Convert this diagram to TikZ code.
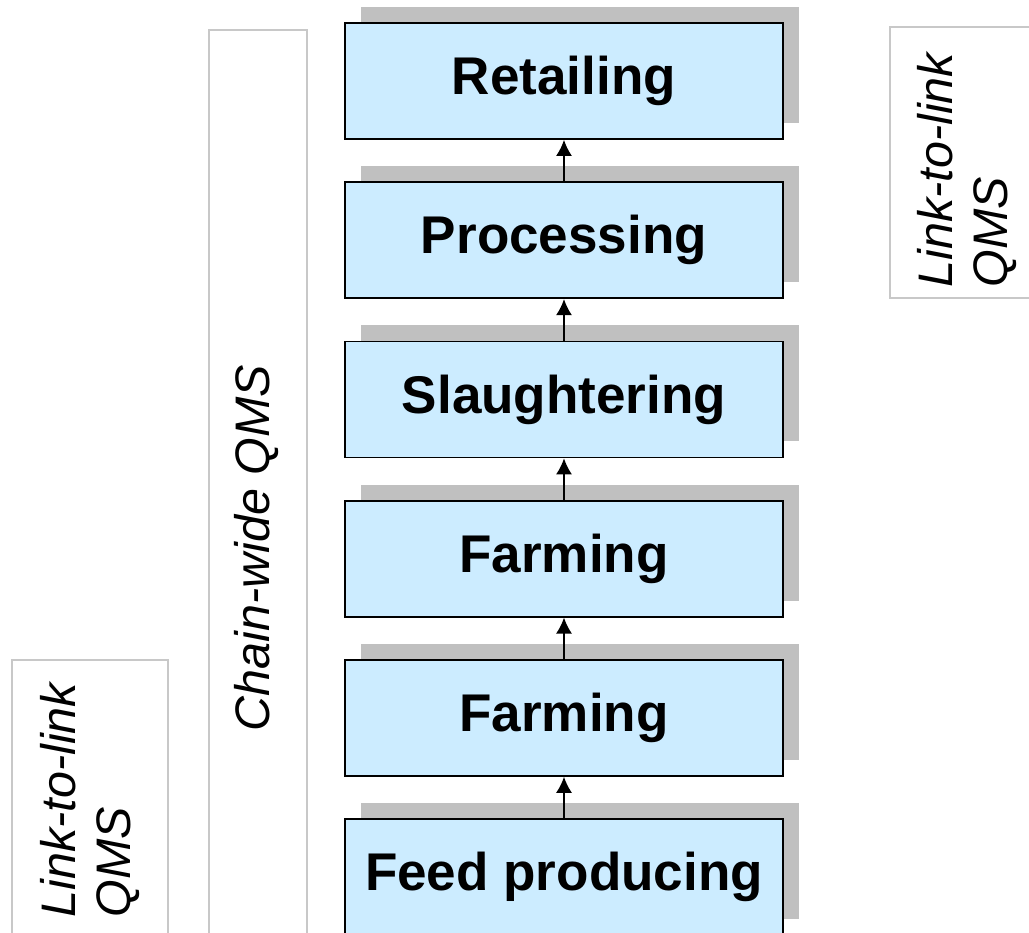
\documentclass[tikz,border=0pt]{standalone}
\usepackage{fontspec}
\setsansfont{Liberation Sans}
\usetikzlibrary{positioning,arrows.meta,shadows}
\definecolor{boxblue}{HTML}{CCECFF}
\definecolor{shadowgray}{HTML}{C0C0C0}
\definecolor{framegray}{HTML}{C8C8C8}

\begin{document}
\begin{tikzpicture}[x=0.02cm,y=-0.02cm,font=\sffamily,node distance=0.83cm,
    >={Latex[length=0.32cm,width=0.32cm]},
    stage/.style={draw=black,line width=1pt,fill=boxblue,
        minimum width=8.76cm,minimum height=2.32cm,
        font=\sffamily\bfseries\fontsize{30.2}{34}\selectfont,
        drop shadow={shadow xshift=0.32cm,shadow yshift=0.32cm,fill=shadowgray,opacity=1}},
    qmsframe/.style={draw=framegray,line width=1.1pt},
    qms/.style={rotate=90,align=left,inner sep=0pt,
        font=\sffamily\itshape\fontsize{27.6}{31.3}\selectfont}]
    \clip (0,0) rectangle (1029,933);

    % quality management frames
    \draw [qmsframe] (12,660) rectangle (168,1000);
    \draw [qmsframe] (209,30) rectangle (307,1000);
    \draw [qmsframe] (890,27) rectangle (1050,298);

    \node [qms] (linklow) at (90,800) {Link-to-link\\QMS};
    \node [qms] (chainwide) at (257,548) {Chain-wide QMS};
    \node [qms] (linkhigh) at (967,170) {Link-to-link\\QMS};

    % the chain, top to bottom
    \node [stage] (retail) at (564,81) {Retailing};
    \node [stage,below=of retail] (process) {Processing};
    \node [stage,below=of process] (slaughter) {Slaughtering};
    \node [stage,below=of slaughter] (farmb) {Farming};
    \node [stage,below=of farmb] (farma) {Farming};
    \node [stage,below=of farma] (feed) {Feed producing};

    \foreach \from/\to in {feed/farma,farma/farmb,farmb/slaughter,slaughter/process,process/retail}
        \draw [->,line width=1pt] (\from) -- (\to);
\end{tikzpicture}
\end{document}
